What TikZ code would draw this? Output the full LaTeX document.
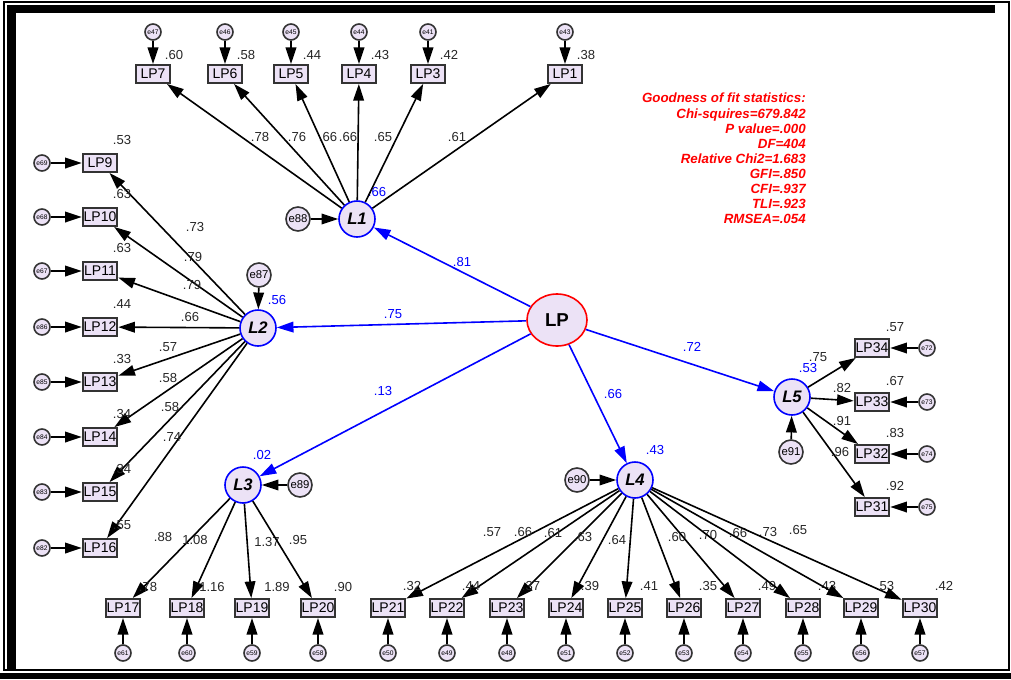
\documentclass[tikz,border=0pt]{standalone}
\usepackage{fontspec}
\setmainfont{Liberation Sans}
\usetikzlibrary{arrows.meta,shapes.geometric}
\definecolor{nodefill}{RGB}{236,226,246}
\definecolor{amosblue}{RGB}{0,0,255}
\definecolor{amosred}{RGB}{255,0,0}
\tikzset{
  obs/.style={draw=black!80, line width=1.4pt, fill=nodefill, minimum width=26pt, minimum height=13.5pt, inner sep=0pt, font=\fontsize{10.5}{10.5}\selectfont},
  lat/.style={circle, draw=amosblue, line width=1.2pt, fill=nodefill, minimum size=27pt, inner sep=0pt, font=\fontsize{12.5}{12.5}\selectfont\bfseries\itshape},
  dist/.style={circle, draw=black!80, line width=1.2pt, fill=nodefill, minimum size=18pt, inner sep=0pt, font=\fontsize{8.5}{8.5}\selectfont},
  err/.style={circle, draw=black!80, line width=1.2pt, fill=nodefill, minimum size=12pt, inner sep=0pt, font=\fontsize{5}{5}\selectfont},
  num/.style={font=\fontsize{9.8}{9.8}\selectfont, text=black!85, inner sep=0pt},
  bnum/.style={num, text=amosblue},
  arr/.style={line width=1.2pt, -{Triangle[length=12.5pt,width=8pt]}},
  barr/.style={arr, draw=amosblue},
}

\begin{document}
\begin{tikzpicture}[x=0.75pt,y=-0.75pt]
		%%%%% START %%%%%
		\useasboundingbox (0,0) rectangle (1011,679);
		
		\draw[line width=1.1pt] (4,2) rectangle (1009,670);
		\fill[black] (7,5) rectangle (995,13);
		\fill[black] (7,5) rectangle (16,670);
		\fill[black] (0,673) rectangle (1011,679);
		
		\node[lat, ellipse, draw=amosred, minimum width=45pt, minimum height=39pt, font=\fontsize{14}{14}\selectfont\bfseries] (LP) at (557,320) {LP};
		\node[lat] (L1) at (357,219) {L1};
		\node[lat] (L2) at (258,328) {L2};
		\node[lat] (L3) at (243,485) {L3};
		\node[lat] (L4) at (635,480) {L4};
		\node[lat] (L5) at (792,397) {L5};
		
		\node[dist] (e88) at (298,219) {e88};
		\node[dist] (e87) at (259,275) {e87};
		\node[dist] (e89) at (300,485) {e89};
		\node[dist] (e90) at (577,480) {e90};
		\node[dist] (e91) at (791,452) {e91};
		\draw[arr] (e88) -- (L1);
		\draw[arr] (e87) -- (L2);
		\draw[arr] (e89) -- (L3);
		\draw[arr] (e90) -- (L4);
		\draw[arr] (e91) -- (L5);
		
		\node[bnum] (r1) at (377,192) {.66};
		\node[bnum] (r2) at (277,300) {.56};
		\node[bnum] (r3) at (262,455) {.02};
		\node[bnum] (r4) at (655,450) {.43};
		\node[bnum] (r5) at (808,368) {.53};
		
		\draw[barr] (LP) -- (L1);
		\draw[barr] (LP) -- (L2);
		\draw[barr] (LP) -- (L3);
		\draw[barr] (LP) -- (L4);
		\draw[barr] (LP) -- (L5);
		\node[bnum] (b1) at (462,262) {.81};
		\node[bnum] (b2) at (393,314) {.75};
		\node[bnum] (b3) at (383,391) {.13};
		\node[bnum] (b4) at (613,394) {.66};
		\node[bnum] (b5) at (692,347) {.72};
		
		% L1 items
		\foreach \i/\x/\ev/\sm/\lx/\lv in {7/153/47/.60/260/.78, 6/225/46/.58/297/.76, 5/291/45/.44/328/.66, 4/359/44/.43/348/.66, 3/428/41/.42/383/.65, 1/565/43/.38/457/.61} {
			\node[obs] (LP\i) at (\x,74) {LP\i};
			\node[err] (e\ev) at (\x,32) {e\ev};
			\draw[arr] (e\ev) -- (LP\i);
			\draw[arr] (L1) -- (LP\i);
			\node[num] (s\i) at (\x+21,55) {\sm};
			\node[num] (l\i) at (\lx,137) {\lv};
		}
		
		% L2 items
		\foreach \i/\y/\ev/\sm/\lx/\ly/\lv in {9/163/69/.53/195/227/.73, 10/217/68/.63/193/257/.79, 11/271/67/.63/192/285/.79, 12/327/86/.44/190/317/.66, 13/382/85/.33/168/347/.57, 14/437/84/.34/168/378/.58, 15/492/83/.34/170/407/.58, 16/548/82/.55/172/437/.74} {
			\node[obs] (LP\i) at (100,\y) {LP\i};
			\node[err] (e\ev) at (42,\y) {e\ev};
			\draw[arr] (e\ev) -- (LP\i);
			\draw[arr] (L2) -- (LP\i);
			\node[num] (s\i) at (122,\y-23) {\sm};
			\node[num] (l\i) at (\lx,\ly) {\lv};
		}
		
		% L3 items
		\foreach \i/\x/\ev/\sm/\lx/\ly/\lv in {17/123/61/.78/163/537/.88, 18/187/60/1.16/195/540/1.08, 19/252/59/1.89/267/542/1.37, 20/318/58/.90/298/540/.95} {
			\node[obs] (LP\i) at (\x,608) {LP\i};
			\node[err] (e\ev) at (\x,653) {e\ev};
			\draw[arr] (e\ev) -- (LP\i);
			\draw[arr] (L3) -- (LP\i);
			\node[num] (s\i) at (\x+25,587) {\sm};
			\node[num] (l\i) at (\lx,\ly) {\lv};
		}
		
		% L4 items
		\foreach \i/\x/\ev/\sm/\lx/\ly/\lv in {21/388/50/.32/492/532/.57, 22/447/49/.44/523/532/.66, 23/507/48/.37/553/533/.61, 24/566/51/.39/583/537/.63, 25/625/52/.41/617/540/.64, 26/684/53/.35/677/537/.60, 27/743/54/.49/708/535/.70, 28/803/55/.43/738/533/.66, 29/861/56/.53/768/532/.73, 30/920/57/.42/798/530/.65} {
			\node[obs] (LP\i) at (\x,608) {LP\i};
			\node[err] (e\ev) at (\x,653) {e\ev};
			\draw[arr] (e\ev) -- (LP\i);
			\draw[arr] (L4) -- (LP\i);
			\node[num] (s\i) at (\x+24,586) {\sm};
			\node[num] (l\i) at (\lx,\ly) {\lv};
		}
		
		% L5 items
		\foreach \i/\y/\ev/\sm/\lx/\ly/\lv in {34/348/72/.57/818/357/.75, 33/402/73/.67/842/388/.82, 32/454/74/.83/842/421/.91, 31/507/75/.92/840/452/.96} {
			\node[obs] (LP\i) at (872,\y) {LP\i};
			\node[err] (e\ev) at (927,\y) {e\ev};
			\draw[arr] (e\ev) -- (LP\i);
			\draw[arr] (L5) -- (LP\i);
			\node[num] (s\i) at (895,\y-21) {\sm};
			\node[num] (l\i) at (\lx,\ly) {\lv};
		}
		
		\node[anchor=north east, align=right, inner sep=0pt, text=amosred, font=\fontsize{10}{11.3}\selectfont\bfseries\itshape] (fit) at (806,93) {Goodness of fit statistics:\\Chi-squires=679.842\\P value=.000\\DF=404\\Relative Chi2=1.683\\GFI=.850\\CFI=.937\\TLI=.923\\RMSEA=.054};
		
		%%%%% END %%%%%
	\end{tikzpicture}
\end{document}
